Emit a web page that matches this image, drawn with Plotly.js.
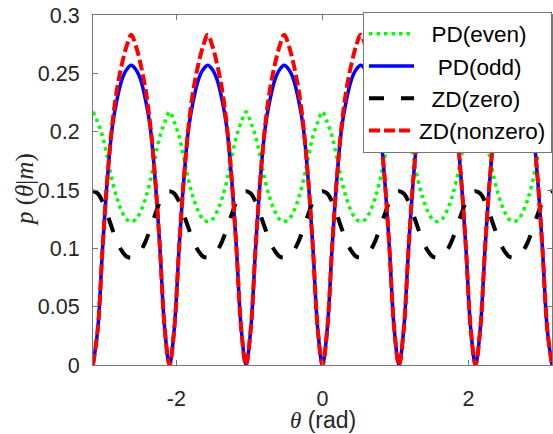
<!DOCTYPE html>
<html>
<head>
<meta charset="utf-8">
<script src="https://cdn.plot.ly/plotly-3.0.1.min.js"></script>
<style>html,body{margin:0;padding:0;background:#fff;}#chart{width:553px;height:434px;}</style>
</head>
<body>
<div id="chart"></div>
<script>
// theta samples (rad), step pi/48
const theta = [
 -3.1416,-3.0761,-3.0107,-2.9452,-2.8798,-2.8143,-2.7489,-2.6834,
 -2.6180,-2.5525,-2.4871,-2.4216,-2.3562,-2.2907,-2.2253,-2.1598,
 -2.0944,-2.0289,-1.9635,-1.8980,-1.8326,-1.7671,-1.7017,-1.6362,
 -1.5708,-1.5053,-1.4399,-1.3744,-1.3090,-1.2435,-1.1781,-1.1126,
 -1.0472,-0.9817,-0.9163,-0.8508,-0.7854,-0.7199,-0.6545,-0.5890,
 -0.5236,-0.4581,-0.3927,-0.3272,-0.2618,-0.1963,-0.1309,-0.0654,
 0,0.0654,0.1309,0.1963,0.2618,0.3272,0.3927,0.4581,
 0.5236,0.5890,0.6545,0.7199,0.7854,0.8508,0.9163,0.9817,
 1.0472,1.1126,1.1781,1.2435,1.3090,1.3744,1.4399,1.5053,
 1.5708,1.6362,1.7017,1.7671,1.8326,1.8980,1.9635,2.0289,
 2.0944,2.1598,2.2253,2.2907,2.3562,2.4216,2.4871,2.5525,
 2.6180,2.6834,2.7489,2.8143,2.8798,2.9452,3.0107,3.0761,
 3.1416];

const pdEven = [
 0.217,0.208,0.196,0.178,0.158,0.143,0.132,0.125,0.123,0.125,0.132,0.143,0.158,0.178,0.196,0.208,
 0.217,0.208,0.196,0.178,0.158,0.143,0.132,0.125,0.123,0.125,0.132,0.143,0.158,0.178,0.196,0.208,
 0.217,0.208,0.196,0.178,0.158,0.143,0.132,0.125,0.123,0.125,0.132,0.143,0.158,0.178,0.196,0.208,
 0.217,0.208,0.196,0.178,0.158,0.143,0.132,0.125,0.123,0.125,0.132,0.143,0.158,0.178,0.196,0.208,
 0.217,0.208,0.196,0.178,0.158,0.143,0.132,0.125,0.123,0.125,0.132,0.143,0.158,0.178,0.196,0.208,
 0.217,0.208,0.196,0.178,0.158,0.143,0.132,0.125,0.123,0.125,0.132,0.143,0.158,0.178,0.196,0.208,
 0.217];

const pdOdd = [
 0,0.031,0.100,0.159,0.203,0.227,0.244,0.253,0.257,0.253,0.244,0.227,0.203,0.159,0.100,0.031,
 0,0.031,0.100,0.159,0.203,0.227,0.244,0.253,0.257,0.253,0.244,0.227,0.203,0.159,0.100,0.031,
 0,0.031,0.100,0.159,0.203,0.227,0.244,0.253,0.257,0.253,0.244,0.227,0.203,0.159,0.100,0.031,
 0,0.031,0.100,0.159,0.203,0.227,0.244,0.253,0.257,0.253,0.244,0.227,0.203,0.159,0.100,0.031,
 0,0.031,0.100,0.159,0.203,0.227,0.244,0.253,0.257,0.253,0.244,0.227,0.203,0.159,0.100,0.031,
 0,0.031,0.100,0.159,0.203,0.227,0.244,0.253,0.257,0.253,0.244,0.227,0.203,0.159,0.100,0.031,
 0];

const zdZero = [
 0.149,0.147,0.140,0.129,0.117,0.106,0.098,0.093,0.092,0.093,0.098,0.106,0.117,0.129,0.140,0.147,
 0.149,0.147,0.140,0.129,0.117,0.106,0.098,0.093,0.092,0.093,0.098,0.106,0.117,0.129,0.140,0.147,
 0.149,0.147,0.140,0.129,0.117,0.106,0.098,0.093,0.092,0.093,0.098,0.106,0.117,0.129,0.140,0.147,
 0.149,0.147,0.140,0.129,0.117,0.106,0.098,0.093,0.092,0.093,0.098,0.106,0.117,0.129,0.140,0.147,
 0.149,0.147,0.140,0.129,0.117,0.106,0.098,0.093,0.092,0.093,0.098,0.106,0.117,0.129,0.140,0.147,
 0.149,0.147,0.140,0.129,0.117,0.106,0.098,0.093,0.092,0.093,0.098,0.106,0.117,0.129,0.140,0.147,
 0.149];

const zdNonzero = [
 0,0.031,0.100,0.160,0.205,0.236,0.257,0.273,0.283,0.273,0.257,0.236,0.205,0.160,0.100,0.031,
 0,0.031,0.100,0.160,0.205,0.236,0.257,0.273,0.283,0.273,0.257,0.236,0.205,0.160,0.100,0.031,
 0,0.031,0.100,0.160,0.205,0.236,0.257,0.273,0.283,0.273,0.257,0.236,0.205,0.160,0.100,0.031,
 0,0.031,0.100,0.160,0.205,0.236,0.257,0.273,0.283,0.273,0.257,0.236,0.205,0.160,0.100,0.031,
 0,0.031,0.100,0.160,0.205,0.236,0.257,0.273,0.283,0.273,0.257,0.236,0.205,0.160,0.100,0.031,
 0,0.031,0.100,0.160,0.205,0.236,0.257,0.273,0.283,0.273,0.257,0.236,0.205,0.160,0.100,0.031,
 0];

const seriesNames = ['\u00a0\u00a0PD(even)', '\u00a0\u00a0\u00a0PD(odd)', '\u00a0\u00a0ZD(zero)', 'ZD(nonzero)'];
const xTicks = [-2, 0, 2];
const xTickText = ['-2', '0', '2'];
const yTicks = [0, 0.05, 0.1, 0.15, 0.2, 0.25, 0.3];
const yTickText = ['0', '0.05', '0.1', '0.15', '0.2', '0.25', '0.3'];

const traces = [
  {x: theta, y: pdEven, name: seriesNames[0], legendgroup: 'a', mode: 'lines',
   line: {color: '#00ff00', width: 3.5, dash: '3.5px,4px', shape: 'spline'}},
  {x: theta, y: pdOdd, name: seriesNames[1], legendgroup: 'b', mode: 'lines',
   line: {color: '#0000ff', width: 3.5, dash: 'solid', shape: 'spline'}},
  {x: theta, y: zdZero, name: seriesNames[2], legendgroup: 'c', mode: 'lines',
   line: {color: '#000000', width: 4, dash: '15px,17px', shape: 'spline'}},
  {x: theta, y: zdNonzero, name: seriesNames[3], legendgroup: 'd', mode: 'lines',
   line: {color: '#ff0000', width: 4, dash: '11px,4px', shape: 'spline'}}
];

const tickFont = {family: 'Liberation Sans, Arial, sans-serif', size: 21.5, color: '#262626'};
const axisCommon = {
  showgrid: false, zeroline: false, showline: true, linecolor: '#777', linewidth: 1,
  mirror: 'ticks', ticks: 'inside', ticklen: 5, tickcolor: '#777', tickwidth: 1,
  tickfont: tickFont
};

const layout = {
  width: 553, height: 434,
  margin: {l: 93, r: 1, t: 15, b: 69},
  paper_bgcolor: '#fff', plot_bgcolor: '#fff',
  showlegend: true,
  xaxis: Object.assign({}, axisCommon, {
    range: [-3.1416, 3.1416], tickvals: xTicks, ticktext: xTickText,
    ticklabelstandoff: 14
  }),
  yaxis: Object.assign({}, axisCommon, {
    range: [0, 0.3], tickvals: yTicks, ticktext: yTickText,
    ticklabelstandoff: 8
  }),
  annotations: [{
    text: '<i>p</i> (<i>θ</i>|<i>m</i>)', textangle: -90,
    xref: 'paper', yref: 'paper', x: 0, y: 0.5, xanchor: 'center', yanchor: 'middle',
    xshift: -68, showarrow: false,
    font: {family: 'Liberation Serif, serif', size: 25, color: '#262626'}
  }, {
    text: '<span style="font-family:Liberation Serif"><i>θ</i></span> (rad)',
    xref: 'paper', yref: 'paper', x: 0.5, y: 0, xanchor: 'center', yanchor: 'middle',
    yshift: -55, showarrow: false,
    font: {family: 'Liberation Sans, Arial, sans-serif', size: 23, color: '#262626'}
  }],
  legend: {
    x: 1, xanchor: 'right', y: 1.01, yanchor: 'top',
    bgcolor: '#fff', bordercolor: '#777', borderwidth: 1,
    font: {family: 'Liberation Sans, Arial, sans-serif', size: 22.5, color: '#000'},
    itemwidth: 45, tracegroupgap: 0
  }
};

Plotly.newPlot('chart', traces, layout, {staticPlot: true, displayModeBar: false});
</script>
</body>
</html>
